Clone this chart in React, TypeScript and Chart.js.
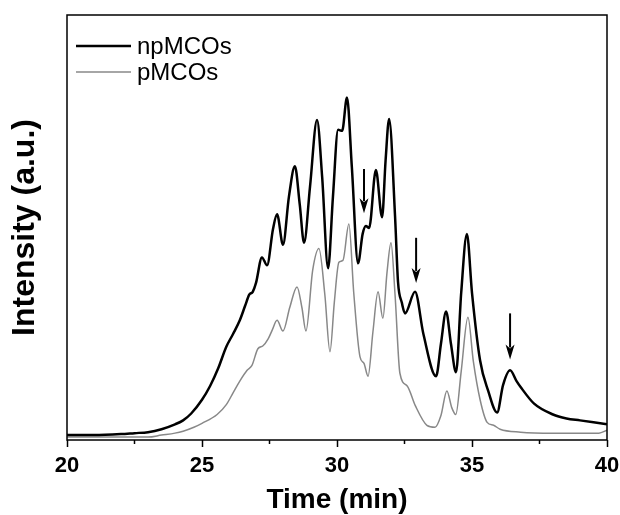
import React, { useEffect, useRef } from 'react';
import { Chart, registerables } from 'chart.js';

Chart.register(...registerables);

// ---- Data ----
const seriesNames = ['npMCOs', 'pMCOs'];

const npTime = [
  20.0, 21.0, 22.0, 22.5, 23.0, 23.5, 24.0, 24.3, 24.6, 25.0, 25.3, 25.6, 25.9, 26.15, 26.4, 26.6,
  26.75, 26.88, 27.0, 27.22, 27.41, 27.63, 27.78, 28.0, 28.22, 28.44, 28.62, 28.78, 29.0, 29.26,
  29.45, 29.67, 29.85, 30.04, 30.19, 30.37, 30.55, 30.78, 30.95, 31.07, 31.19, 31.44, 31.67, 31.8,
  31.93, 32.15, 32.26, 32.4, 32.52, 32.89, 33.2, 33.67, 33.85, 34.04, 34.22, 34.41, 34.6, 34.81,
  35.0, 35.3, 35.6, 35.93, 36.15, 36.41, 36.65, 36.8, 37.3, 38.0, 38.5, 39.0, 40.0,
];
const npIntensity = [
  5, 5, 6, 7, 8, 11, 16, 20, 27, 41, 55, 73, 95, 108, 122, 137,
  148, 151, 160, 186, 178, 215, 230, 199, 248, 279, 240, 201, 258, 326,
  268, 175, 248, 316, 315, 349, 278, 180, 210, 218, 216, 275, 227, 285,
  327, 228, 161, 140, 129, 151, 108, 65, 98, 131, 98, 69, 150, 210,
  150, 81, 50, 28, 56, 71, 60, 54, 37, 26, 22, 20, 16,
];

const pTime = [
  20.0, 21.0, 22.0, 23.0, 23.5, 24.0, 24.3, 24.7, 25.0, 25.56, 25.9, 26.15, 26.4, 26.67, 26.85,
  27.07, 27.26, 27.45, 27.6, 27.78, 28.0, 28.25, 28.52, 28.7, 28.85, 29.1, 29.33, 29.55, 29.74,
  29.9, 30.07, 30.22, 30.44, 30.62, 30.85, 31.0, 31.15, 31.33, 31.52, 31.7, 31.85, 32.0, 32.15,
  32.33, 32.6, 32.9, 33.33, 33.63, 33.85, 34.07, 34.25, 34.4, 34.6, 34.85, 35.05, 35.3, 35.56,
  35.8, 36.04, 36.8, 38.0, 39.0, 39.7, 40.0,
];
const pIntensity = [
  3, 3, 3, 3, 5, 7, 9, 13, 17, 26, 36, 48, 60, 71, 76,
  93, 96, 103, 112, 122, 111, 135, 156, 135, 111, 173, 195, 148, 90,
  140, 181, 183, 220, 150, 85, 78, 65, 110, 151, 124, 170, 201, 148,
  68, 55, 35, 15, 13, 25, 50, 33, 26, 70, 125, 80, 41, 18,
  15, 11, 8, 7, 7, 7, 10,
];

// Arrows marking peaks: time, arrow tail intensity, arrow tip intensity
const arrowTime = [31.0, 32.93, 36.41];
const arrowTail = [276, 206, 129];
const arrowTip = [231, 160, 82];

const minorTicks = [22.5, 27.5, 32.5, 37.5];

const FONT = 'Arial, "Liberation Sans", Helvetica, sans-serif';

const framePlugin = {
  id: 'frameBox',
  afterDraw(chart: any) {
    const { ctx, chartArea: a, scales } = chart;
    ctx.save();
    ctx.strokeStyle = '#000';
    ctx.lineWidth = 1.5;
    ctx.strokeRect(a.left, a.top, a.right - a.left, a.bottom - a.top);
    for (const v of minorTicks) {
      const x = scales.x.getPixelForValue(v);
      ctx.beginPath();
      ctx.moveTo(x, a.bottom);
      ctx.lineTo(x, a.bottom + 4);
      ctx.stroke();
    }
    ctx.restore();
  },
};

// Legend drawn inside the plot area, top-left (line sample + label)
const insideLegendPlugin = {
  id: 'insideLegend',
  afterDraw(chart: any) {
    const { ctx, chartArea: a } = chart;
    ctx.save();
    ctx.font = `24px ${FONT}`;
    ctx.textBaseline = 'middle';
    ctx.textAlign = 'left';
    chart.data.datasets.forEach((ds: any, i: number) => {
      const cy = a.top + 31 + i * 26;
      const x0 = a.left + 9;
      ctx.strokeStyle = ds.borderColor;
      ctx.lineWidth = ds.borderWidth;
      ctx.beginPath();
      ctx.moveTo(x0, cy);
      ctx.lineTo(x0 + 55, cy);
      ctx.stroke();
      ctx.fillStyle = '#000';
      ctx.fillText(ds.label, x0 + 61, cy + 1);
    });
    ctx.restore();
  },
};

const arrowPlugin = {
  id: 'peakArrows',
  afterDatasetsDraw(chart: any) {
    const { ctx, scales } = chart;
    const xs = scales.x;
    const ys = scales.y;
    ctx.save();
    ctx.strokeStyle = '#000';
    ctx.fillStyle = '#000';
    ctx.lineWidth = 2;
    arrowTime.forEach((t, i) => {
      const px = xs.getPixelForValue(t);
      const y0 = ys.getPixelForValue(arrowTail[i]);
      const y1 = ys.getPixelForValue(arrowTip[i]);
      const head = 15;
      const hw = 4.5;
      ctx.beginPath();
      ctx.moveTo(px, y0);
      ctx.lineTo(px, y1 - head + 3);
      ctx.stroke();
      ctx.beginPath();
      ctx.moveTo(px - hw, y1 - head);
      ctx.lineTo(px, y1 - head + 4);
      ctx.lineTo(px + hw, y1 - head);
      ctx.lineTo(px, y1);
      ctx.closePath();
      ctx.fill();
    });
    ctx.restore();
  },
};

export default function App() {
  const canvasRef = useRef<HTMLCanvasElement | null>(null);

  useEffect(() => {
    document.body.style.margin = '0';
    const canvas = canvasRef.current;
    if (!canvas) return;
    const chart = new Chart(canvas, {
      type: 'line',
      data: {
        datasets: [
          {
            label: seriesNames[0],
            data: npTime.map((t, i) => ({ x: t, y: npIntensity[i] })),
            borderColor: '#000000',
            backgroundColor: '#000000',
            borderWidth: 2.5,
            pointRadius: 0,
            cubicInterpolationMode: 'monotone',
            fill: false,
          },
          {
            label: seriesNames[1],
            data: pTime.map((t, i) => ({ x: t, y: pIntensity[i] })),
            borderColor: '#888888',
            backgroundColor: '#888888',
            borderWidth: 1.5,
            pointRadius: 0,
            cubicInterpolationMode: 'monotone',
            fill: false,
          },
        ],
      },
      options: {
        responsive: false,
        animation: false,
        events: [],
        layout: { padding: { left: 0, right: 13, top: 15, bottom: 1 } },
        scales: {
          x: {
            type: 'linear',
            min: 20,
            max: 40,
            afterFit(scale: any) {
              scale.paddingLeft = 13;
              scale.paddingRight = 13;
            },
            ticks: {
              stepSize: 5,
              color: '#000',
              padding: 8,
              maxRotation: 0,
              autoSkip: false,
              font: { family: FONT, size: 22, weight: 'bold', lineHeight: 1 },
            },
            grid: {
              display: true,
              drawOnChartArea: false,
              drawTicks: true,
              tickLength: 7,
              tickColor: '#000',
              tickWidth: 1.5,
            },
            border: { display: false },
            title: {
              display: true,
              text: 'Time (min)',
              color: '#000',
              font: { family: FONT, size: 28, weight: 'bold', lineHeight: 1 },
              padding: { top: 1, bottom: 0 },
            },
          },
          y: {
            type: 'linear',
            min: 0,
            max: 433,
            ticks: { display: false },
            grid: { display: false, drawTicks: false },
            border: { display: false },
            title: {
              display: true,
              text: 'Intensity (a.u.)',
              color: '#000',
              font: { family: FONT, size: 32, weight: 'bold', lineHeight: 1 },
              padding: { top: 9, bottom: 26 },
            },
          },
        },
        plugins: {
          tooltip: { enabled: false },
          legend: { display: false },
        },
      },
      plugins: [framePlugin, arrowPlugin, insideLegendPlugin],
    } as any);
    return () => chart.destroy();
  }, []);

  return (
    <div style={{ width: 620, height: 515 }}>
      <canvas ref={canvasRef} width={620} height={515} style={{ display: 'block' }} />
    </div>
  );
}
